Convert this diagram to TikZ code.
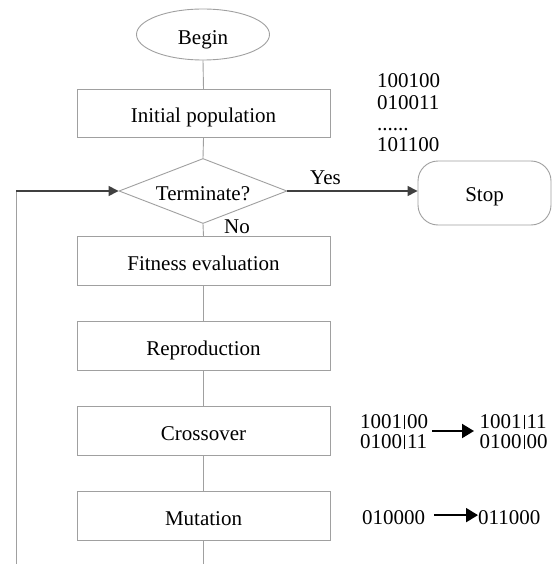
\documentclass[tikz,border=0pt]{standalone}
\usepackage{fontspec}
\setmainfont{Liberation Serif}
\usetikzlibrary{shapes.geometric,arrows.meta}
\definecolor{boxline}{HTML}{A0A0A0}
\definecolor{arrline}{HTML}{404040}
\newcommand{\cutbar}{\kern2pt\rule{0.8pt}{14pt}\kern2pt}
\begin{document}
\begin{tikzpicture}[x=1pt,y=-1pt,
  every node/.style={font=\rmfamily\fontsize{21}{21.3}\selectfont},
  shapetext/.style={draw=boxline,line width=0.9pt,inner sep=0pt,text height=18pt,text depth=0pt},
  procbox/.style={shapetext,rectangle,minimum width=253pt,minimum height=48.5pt},
  link/.style={draw=boxline,line width=0.9pt},
  arr/.style={draw=arrline,line width=1.4pt,-{Triangle[length=10pt,width=10pt]}},
  barr/.style={draw=black,line width=2pt,-{Triangle[length=12pt,width=14pt]}},
  plain/.style={inner sep=0pt,align=left}]
\useasboundingbox[fill=white] (0,0) rectangle (552,564);
\node[shapetext,ellipse,minimum width=133pt,minimum height=51pt,text height=20pt] (begin) at (203,34.5) {Begin};
\node[procbox] (init) at (203.5,113.5) {Initial population};
\node[shapetext,diamond,aspect=2.58,minimum width=168pt,minimum height=65pt] (term) at (203,191) {Terminate?};
\node[shapetext,rectangle,rounded corners=20pt,minimum width=133pt,minimum height=64pt,text height=17pt] (stop) at (484.5,193) {Stop};
\node[procbox] (fit) at (203.5,261) {Fitness evaluation};
\node[procbox] (rep) at (203.5,346) {Reproduction};
\node[procbox] (cross) at (203.5,431) {Crossover};
\node[procbox] (mut) at (203.5,516) {Mutation};
\coordinate (bottom) at (203.5,564);
\coordinate (fbstart) at (16,564);
\coordinate (fbcorner) at (16,191);

\draw[link] (begin.south) -- (init.north);
\draw[link] (init.south) -- (term.north);
\draw[link] (term.south) -- (fit.north);
\draw[link] (fit.south) -- (rep.north);
\draw[link] (rep.south) -- (cross.north);
\draw[link] (cross.south) -- (mut.north);
\draw[link] (mut.south) -- (bottom);
\draw[link] (fbstart) -- (fbcorner);
\draw[arr] (fbcorner) -- (term.west);
\draw[arr] (term.east) -- (term.east -| stop.west);
\node[inner sep=0pt,anchor=base west] (yes) at (310,184) {Yes};
\node[inner sep=0pt,anchor=base west] (no) at (224,233) {No};

\node[plain,anchor=west] (pop) at (377,113) {100100\\010011\\......\\101100};
\node[plain,anchor=west,font=\rmfamily\fontsize{21}{20}\selectfont] (c1) at (360,432) {1001\cutbar00\\0100\cutbar11};
\node[plain,anchor=west,font=\rmfamily\fontsize{21}{20}\selectfont] (c2) at (479.5,432) {1001\cutbar11\\0100\cutbar00};
\draw[barr,shorten <=4pt,shorten >=5.5pt] ([yshift=1pt]c1.east) -- ([yshift=1pt]c2.west);
\node[inner sep=0pt,anchor=base west] (m1) at (362,524) {010000};
\node[inner sep=0pt,anchor=base west] (m2) at (478,524) {011000};
\draw[barr,shorten <=9pt,shorten >=0pt] ([yshift=2pt]m1.east) -- ([yshift=2pt]m2.west);
\end{tikzpicture}
\end{document}
